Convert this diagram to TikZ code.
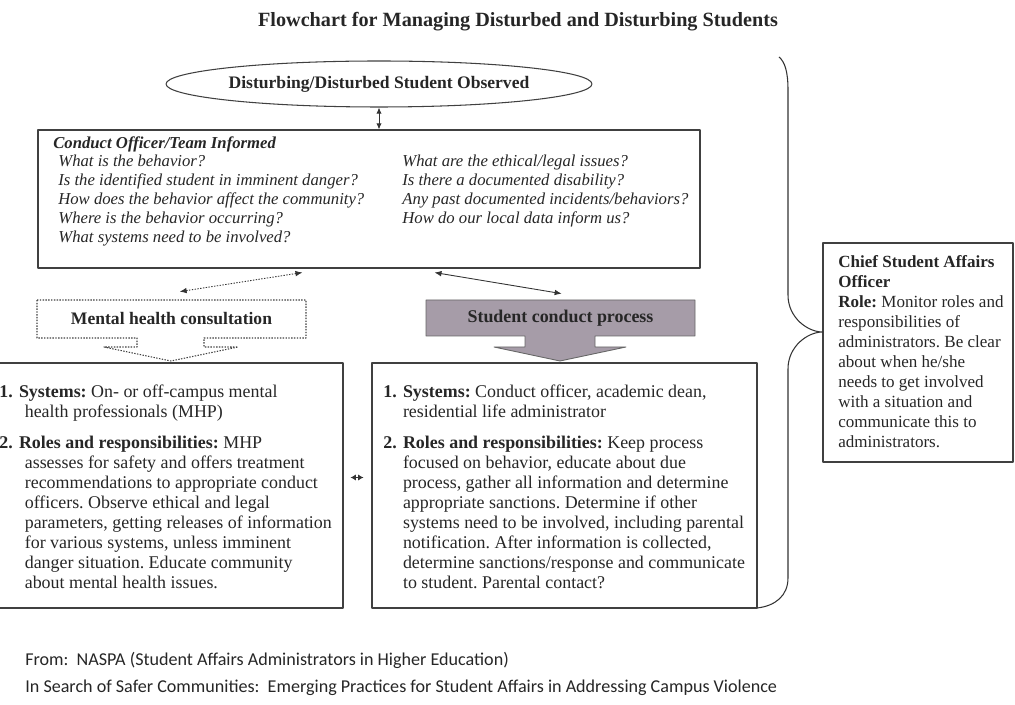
\documentclass[tikz,border=0pt]{standalone}
\usepackage{fontspec}
\setmainfont{Liberation Serif}
\newfontfamily\notefont{Carlito}
\usetikzlibrary{arrows.meta,shapes.geometric,fit,positioning}
\definecolor{conductgray}{RGB}{166,156,168}
\frenchspacing

\begin{document}
\begin{tikzpicture}[x=0.02cm, y=-0.02cm, line join=round, >={Latex[length=4pt,width=3.2pt]},
	box/.style={draw=black!75, line width=.6pt, inner sep=0pt},
	txt/.style={anchor=north west, inner sep=0pt, align=left, text=black!85, font=\fontsize{10.2}{11.4}\selectfont},
	qtxt/.style={txt, font=\fontsize{9.5}{10.8}\selectfont\itshape},
	head/.style={inner sep=0pt, text=black!85, font=\fontsize{10.2}{12}\selectfont\bfseries},
	link/.style={<->, line width=.5pt, black!80},
	dotlink/.style={link, dash pattern=on .8pt off .8pt}]
	\useasboundingbox (0,0) rectangle (1015,705);
	
	\node[head, font=\fontsize{11.5}{13}\selectfont\bfseries] (title) at (518,22) {Flowchart for Managing Disturbed and Disturbing Students};
	\node[head, font=\fontsize{10}{12}\selectfont\bfseries, ellipse, draw=black!75, line width=.6pt, minimum width=426*0.02cm, minimum height=46*0.02cm] (observed) at (379,84) {Disturbing/Disturbed Student Observed};
	
	% questions box
	\node[box, fit={(38,130) (700,268)}] (informed) {};
	\node[txt, font=\fontsize{9.5}{11.4}\selectfont\bfseries\itshape] (informed head) at (53,136) {Conduct Officer/Team Informed};
	\node[qtxt] (questions left) at (58,155) {What is the behavior?\\ Is the identified student in imminent danger?\\ How does the behavior affect the community?\\ Where is the behavior occurring?\\ What systems need to be involved?};
	\node[qtxt] (questions right) at (402,155) {What are the ethical/legal issues?\\ Is there a documented disability?\\ Any past documented incidents/behaviors?\\ How do our local data inform us?};
	
	% the two routes
	\node[fit={(37,300) (306,338)}, inner sep=0pt] (mental) {};
	\draw[dash pattern=on .8pt off .8pt, line width=.6pt, black!75] (37,300) -- (306,300) -- (306,338) -- (204,338) -- (204,347) -- (238,347) -- (171,361) -- (104,347) -- (137,347) -- (137,338) -- (37,338) -- cycle;
	\node[head, font=\fontsize{10}{12}\selectfont\bfseries] (mental label) at (mental) {Mental health consultation};
	
	\node[fit={(426,300) (695,336)}, inner sep=0pt] (conduct) {};
	\filldraw[fill=conductgray, draw=black!60, line width=.5pt] (426,300) -- (695,300) -- (695,336) -- (595,336) -- (595,347) -- (626,347) -- (560,361) -- (494,347) -- (525,347) -- (525,336) -- (426,336) -- cycle;
	\node[head] (conduct label) at (conduct) {Student conduct process};
	
	\node[box, fit={(-6,363) (343,608)}] (mental roles) {};
	\node[box, fit={(372,363) (757,608)}] (conduct roles) {};
	\node[txt] (mental roles text) at (-1,385) {\makebox[11.2pt][l]{\textbf{1.}}\textbf{Systems:} On- or off-campus mental\\ \hspace*{14.5pt}health professionals (MHP)\\[6pt]
		\makebox[11.2pt][l]{\textbf{2.}}\textbf{Roles and responsibilities:} MHP\\ \hspace*{14.5pt}assesses for safety and offers treatment\\ \hspace*{14.5pt}recommendations to appropriate conduct\\ \hspace*{14.5pt}officers. Observe ethical and legal\\ \hspace*{14.5pt}parameters, getting releases of information\\ \hspace*{14.5pt}for various systems, unless imminent\\ \hspace*{14.5pt}danger situation. Educate community\\ \hspace*{14.5pt}about mental health issues.};
	\node[txt] (conduct roles text) at (383,385) {\makebox[11.2pt][l]{\textbf{1.}}\textbf{Systems:} Conduct officer, academic dean,\\ \hspace*{11.2pt}residential life administrator\\[6pt]
		\makebox[11.2pt][l]{\textbf{2.}}\textbf{Roles and responsibilities:} Keep process\\ \hspace*{11.2pt}focused on behavior, educate about due\\ \hspace*{11.2pt}process, gather all information and determine\\ \hspace*{11.2pt}appropriate sanctions. Determine if other\\ \hspace*{11.2pt}systems need to be involved, including parental\\ \hspace*{11.2pt}notification. After information is collected,\\ \hspace*{11.2pt}determine sanctions/response and communicate\\ \hspace*{11.2pt}to student. Parental contact?};
	
	% chief officer
	\node[box, fit={(823,243) (1013,462)}] (chief) {};
	\node[txt, font=\fontsize{9.7}{11.4}\selectfont] (chief text) at (838,255) {\textbf{Chief Student Affairs}\\ \textbf{Officer}\\ \textbf{Role:} Monitor roles and\\ responsibilities of\\ administrators. Be clear\\ about when he/she\\ needs to get involved\\ with a situation and\\ communicate this to\\ administrators.};
	
	\path
	([shift={(265,4)}]informed.south west) coordinate (informed l)
	([shift={(397,4)}]informed.south west) coordinate (informed r)
	([shift={(143,-8)}]mental.north west) coordinate (mental t)
	([shift={(136,-6)}]conduct.north west) coordinate (conduct t)
	([shift={(7,-8)}]mental roles.east) coordinate (roles l)
	([shift={(-8,-8)}]conduct roles.west) coordinate (roles r)
	(779,57) coordinate (brace top)
	(757,608) coordinate (brace bot)
	(chief.west |- 0,332) coordinate (brace tip)
	;
	\draw[link, >={Latex[length=3.5pt,width=3pt]}] (observed.south) -- (observed.south |- informed.north);
	\draw[dotlink] (informed l) -- (mental t);
	\draw[link] (informed r) -- (conduct t);
	\draw[link, >={Latex[length=3pt,width=3.5pt]}] (roles l) -- (roles r);
	
	% brace
	\draw[line width=.6pt, black!80] (brace top) .. controls (785,62) and (788,72) .. (788,90) -- (788,295)
	.. controls (788,318) and (808,332) .. (brace tip) .. controls (808,332) and (788,346) .. (788,369)
	-- (788,578) .. controls (788,596) and (775,606) .. (brace bot);
	
	\node[anchor=west, inner sep=0pt, text=black!85, font=\notefont\fontsize{10.3}{12}\selectfont] (source) at (25,660) {From:\ \ NASPA (Student Affairs Administrators in Higher Education)};
	\node[anchor=west, inner sep=0pt, text=black!85, font=\notefont\fontsize{10.3}{12}\selectfont] (book) at (25,688) {In Search of Safer Communities:\ \ Emerging Practices for Student Affairs in Addressing Campus Violence};
\end{tikzpicture}
\end{document}
